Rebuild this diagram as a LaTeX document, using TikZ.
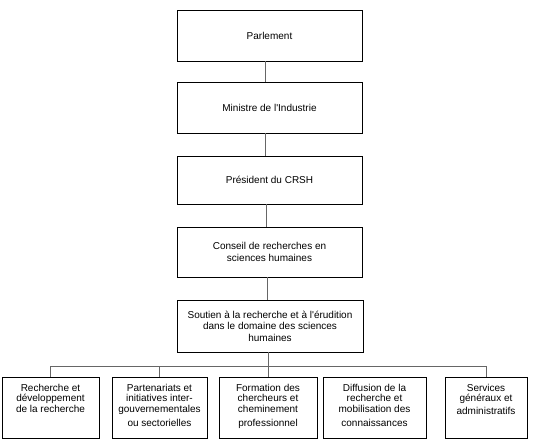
\documentclass[tikz,border=0pt]{standalone}
\usepackage{fontspec}
\setmainfont{Liberation Sans}
\begin{document}
\begin{tikzpicture}[x=1pt,y=-1pt,
  topbox/.style={draw=black, line width=0.8pt, minimum width=185pt, inner sep=0pt, align=center,
    font=\fontsize{10}{11.5}\selectfont},
  botbox/.style={draw=black, line width=0.8pt, minimum height=61pt, inner sep=0pt},
  bottxt/.style={anchor=north, inner sep=0pt, align=center, font=\fontsize{10}{10.5}\selectfont},
  conn/.style={draw=black!60, line width=1pt}]
\useasboundingbox (0,0) rectangle (540,445);
% top chain
\node[topbox, minimum height=51pt] (parl) at (269.5,35.5) {Parlement};
\node[topbox, minimum height=51pt] (mini) at (269.5,107.5) {Ministre de l\textquotesingle Industrie};
\node[topbox, minimum height=48pt] (pres) at (269.5,180) {Président du CRSH};
\node[topbox, minimum height=50pt] (cons) at (269.5,252) {Conseil de recherches en\\sciences humaines};
\node[topbox, minimum width=186pt, minimum height=52pt] (sout) at (270,326) {Soutien à la recherche et à l\textquotesingle érudition\\dans le domaine des sciences\\humaines};
% bottom boxes
\node[botbox, minimum width=97pt] (b1) at (50.5,407.5) {};
\node[botbox, minimum width=95pt] (b2) at (159.5,407.5) {};
\node[botbox, minimum width=98pt] (b3) at (268,407.5) {};
\node[botbox, minimum width=103pt] (b4) at (374.5,407.5) {};
\node[botbox, minimum width=82pt] (b5) at (486,407.5) {};
\node[bottxt] (t1) at ([yshift=-7pt]b1.north) {Recherche et\\développement\\de la recherche};
\node[bottxt] (t2) at ([yshift=-7pt]b2.north) {Partenariats et\\initiatives inter-\\gouvernementales\\[4pt]ou sectorielles};
\node[bottxt] (t3) at ([yshift=-7pt]b3.north) {Formation des\\chercheurs et\\cheminement\\[4pt]professionnel};
\node[bottxt] (t4) at ([yshift=-7pt]b4.north) {Diffusion de la\\recherche et\\mobilisation des\\[4pt]connaissances};
\node[bottxt] (t5) at ([yshift=-7pt]b5.north) {Services\\généraux et\\[2pt]administratifs};
% connectors
\coordinate (busL) at (50.5,366);
\coordinate (busR) at (486,366);
\draw[conn] ([xshift=-4.5pt]parl.south) -- ([xshift=-4.5pt]mini.north);
\draw[conn] ([xshift=-4.5pt]mini.south) -- ([xshift=-4.5pt]pres.north);
\draw[conn] ([xshift=-3.5pt]pres.south) -- ([xshift=-3.5pt]cons.north);
\draw[conn] ([xshift=-2.5pt]cons.south) -- ([xshift=-3pt]sout.north);
\draw[conn] ([xshift=-2pt]sout.south) -- ([xshift=-2pt]sout.south |- busL);
\draw[conn] (b1.north) -- (b1.north |- busL) -- (busR) -- (b5.north);
\draw[conn] (b2.north) -- (b2.north |- busL);
\draw[conn] (b3.north) -- (b3.north |- busL);
\end{tikzpicture}
\end{document}
